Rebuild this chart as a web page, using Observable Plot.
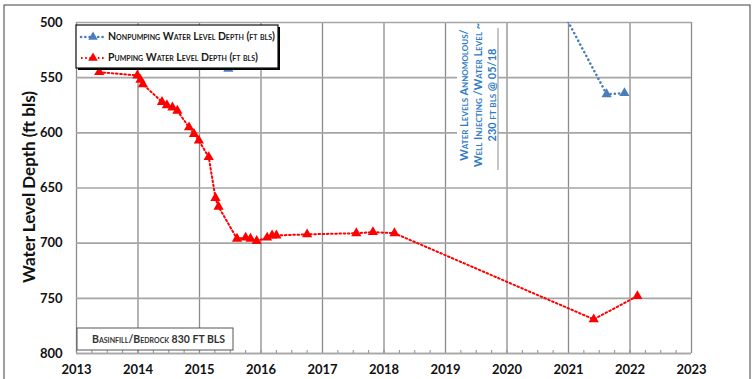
<!DOCTYPE html>
<html><head><meta charset="utf-8">
<script src="https://cdn.jsdelivr.net/npm/d3@7"></script>
<script src="https://cdn.jsdelivr.net/npm/@observablehq/plot@0.6"></script>
<style>
html,body{margin:0;padding:0;background:#fff;}
#chart{position:relative;width:754px;height:379px;overflow:hidden;}
svg text{font-family:Lato,"Liberation Sans",sans-serif;}
</style></head><body><div id="chart"></div>
<script>
// ---- data ----
const pumpYears  = [2013.37, 2013.99, 2014.04, 2014.08, 2014.39, 2014.47, 2014.56, 2014.64, 2014.83, 2014.91, 2014.99, 2015.15, 2015.26, 2015.31, 2015.61, 2015.75, 2015.83, 2015.93, 2016.10, 2016.18, 2016.25, 2016.75, 2017.55, 2017.82, 2018.17, 2021.41, 2022.12];
const pumpDepths = [545, 548, 552, 556, 572, 575, 577, 580, 595, 601, 607, 622, 659, 667, 696, 695, 696, 698, 695, 693, 693, 692, 691, 690, 691, 769, 748];
const nonpumpYears  = [2020.6, 2021.62, 2021.91];
const nonpumpDepths = [458, 565, 564];
const hiddenNonpumpYears  = [2015.47];
const hiddenNonpumpDepths = [542];
const yearTicks  = [2013, 2014, 2015, 2016, 2017, 2018, 2019, 2020, 2021, 2022, 2023];
const depthTicks = [500, 550, 600, 650, 700, 750, 800];
const minorTicks = [2013, 2013.25, 2013.5, 2013.75, 2014, 2014.25, 2014.5, 2014.75, 2015, 2015.25, 2015.5, 2015.75, 2016, 2016.25, 2016.5, 2016.75, 2017, 2017.25, 2017.5, 2017.75, 2018, 2018.25, 2018.5, 2018.75, 2019, 2019.25, 2019.5, 2019.75, 2020, 2020.25, 2020.5, 2020.75, 2021, 2021.25, 2021.5, 2021.75, 2022, 2022.25, 2022.5, 2022.75, 2023];
const seriesNames = ["Nonpumping Water Level Depth (ft bls)", "Pumping Water Level Depth (ft bls)"];
const seriesColors = ["#4a7ebb", "#ff0000"];
const yTitle = "Water Level Depth (ft bls)";
const noteLines = ["Water Levels Annomolous/", "Well Injecting /Water Level ~", "230 ft bls @ 05/18"];
const boxNote = "Basinfill/Bedrock 830 FT BLS";

const pump = pumpYears.map((x, i) => ({x, y: pumpDepths[i]}));
const nonpump = nonpumpYears.map((x, i) => ({x, y: nonpumpDepths[i]}));
const hidden = hiddenNonpumpYears.map((x, i) => ({x, y: hiddenNonpumpDepths[i]}));

const W = 754, H = 379, mL = 76, mR = 63, mT = 22, mB = 26;
const font = "Lato, 'Liberation Sans', sans-serif";

const plot = Plot.plot({
  width: W, height: H,
  marginLeft: mL, marginRight: mR, marginTop: mT, marginBottom: mB,
  style: {fontFamily: font, background: "transparent", overflow: "visible"},
  x: {domain: [2013, 2023]},
  y: {domain: [500, 800], reverse: true},
  marks: [
    Plot.gridX(yearTicks, {stroke: "#8c8c8c", strokeOpacity: 1, strokeWidth: 1.3}),
    Plot.gridY(depthTicks, {stroke: "#a6a6a6", strokeOpacity: 1, strokeWidth: 1.6}),
    Plot.axisX(minorTicks, {tickSize: 3, text: null, stroke: "#8c8c8c", anchor: "bottom", label: null, dy: -3}),
    Plot.ruleY([800], {stroke: "#a6a6a6", strokeWidth: 1.6}),
    Plot.axisX(yearTicks, {tickSize: 0, tickPadding: 11, tickFormat: "d", fontSize: 13, fontWeight: "bold", fill: "#111", label: null}),
    Plot.axisY(depthTicks, {tickSize: 0, tickPadding: 14, fontSize: 13, fontWeight: "bold", fill: "#111", label: null}),
    Plot.dot(hidden, {x: "x", y: "y", symbol: "triangle", r: 3.8, fill: seriesColors[0], stroke: "none"}),
    Plot.line(nonpump, {x: "x", y: "y", stroke: seriesColors[0], strokeWidth: 2.6, strokeDasharray: "0.1,4.2", strokeLinecap: "round", clip: true}),
    Plot.dot(nonpump, {x: "x", y: "y", symbol: "triangle", r: 3.8, fill: seriesColors[0], stroke: "none", clip: true}),
    Plot.line(pump, {x: "x", y: "y", stroke: seriesColors[1], strokeWidth: 2, strokeDasharray: "1.6,2.6"}),
    Plot.dot(pump, {x: "x", y: "y", symbol: "triangle", r: 3.8, fill: seriesColors[1], stroke: "none"})
  ]
});
document.getElementById("chart").appendChild(plot);

const svg = d3.select(plot);
// outer border
svg.append("rect").attr("x", 4).attr("y", 5).attr("width", 746).attr("height", 400)
  .attr("fill", "none").attr("stroke", "#404040").attr("stroke-width", 1);

// y title
svg.append("text").attr("transform", "translate(31,187) rotate(-90)")
  .attr("text-anchor", "middle").attr("dominant-baseline", "middle")
  .style("font-size", "17px").style("font-weight", "bold").attr("fill", "#111").text(yTitle);

// legend box
const lg = svg.append("g");
lg.append("rect").attr("x", 78).attr("y", 27).attr("width", 202).attr("height", 43).attr("fill", "#000");
lg.append("rect").attr("x", 76).attr("y", 25).attr("width", 202).attr("height", 43)
  .attr("fill", "#fff").attr("stroke", "#111").attr("stroke-width", 1.2);
[37, 58].forEach((yy, i) => {
  lg.append("line").attr("x1", 81).attr("x2", 105).attr("y1", yy).attr("y2", yy)
    .attr("stroke", seriesColors[i]).attr("stroke-width", i ? 2 : 2.6)
    .attr("stroke-dasharray", i ? "1.6,2.6" : "0.1,4.2").attr("stroke-linecap", i ? "butt" : "round");
  lg.append("path").attr("transform", `translate(93,${yy})`)
    .attr("d", d3.symbol(d3.symbolTriangle, 40)()).attr("fill", seriesColors[i]);
  lg.append("text").attr("x", 108).attr("y", yy).attr("text-anchor", "start").attr("dominant-baseline", "middle")
    .style("font-size", "10.5px").style("font-weight", "bold").style("font-variant", "small-caps")
    .attr("fill", "#1a1a1a").text(seriesNames[i]);
});

// annotation
const an = svg.append("g");
an.append("rect").attr("x", 457).attr("y", 28).attr("width", 41).attr("height", 142).attr("fill", "#fff");
an.append("line").attr("x1", 498).attr("x2", 498).attr("y1", 28).attr("y2", 170).attr("stroke", "#8c8c8c").attr("stroke-width", 1);
noteLines.forEach((t, i) => {
  an.append("text").attr("transform", `translate(${465 + i * 14},95) rotate(-90)`)
    .attr("text-anchor", "middle").attr("dominant-baseline", "middle")
    .style("font-size", "11px").style("font-weight", "bold").style("font-variant", "small-caps")
    .attr("fill", "#2e7bc4").text(t);
});

// bottom-left box
const bb = svg.append("g");
bb.append("rect").attr("x", 77).attr("y", 328).attr("width", 156).attr("height", 22)
  .attr("fill", "#fff").attr("stroke", "#555").attr("stroke-width", 1);
bb.append("text").attr("x", 92).attr("y", 340).attr("text-anchor", "start").attr("dominant-baseline", "middle")
  .style("font-size", "10.5px").style("font-weight", "bold").style("font-variant", "small-caps")
  .attr("fill", "#333").text(boxNote);
</script></body></html>
